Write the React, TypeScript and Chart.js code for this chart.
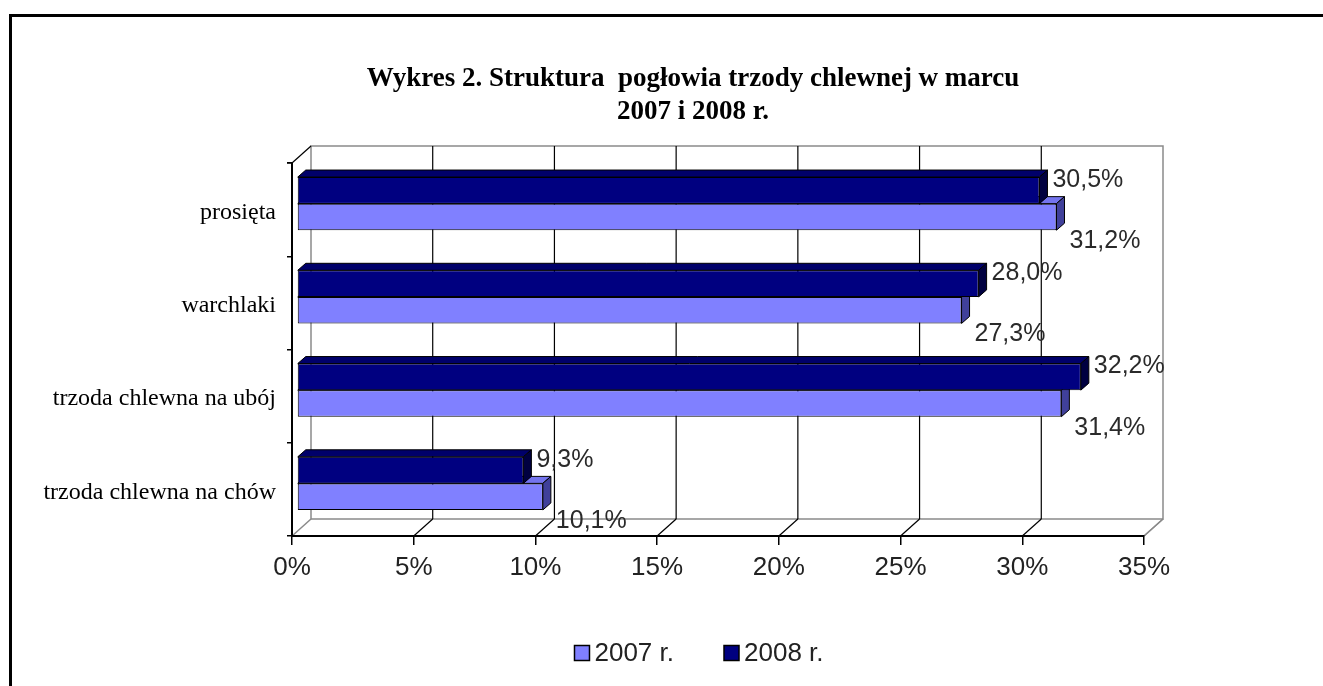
import React, { useEffect, useRef } from 'react';
import { Chart, registerables } from 'chart.js';

Chart.register(...registerables);

const TITLE_LINES = ['Wykres 2. Struktura  pogłowia trzody chlewnej w marcu', '2007 i 2008 r.'];
const CATEGORIES = ['prosięta', 'warchlaki', 'trzoda chlewna na ubój', 'trzoda chlewna na chów'];
const SERIES_2008 = [30.5, 28.0, 32.2, 9.3];
const SERIES_2007 = [31.2, 27.3, 31.4, 10.1];
const LABEL_2008 = '2008 r.';
const LABEL_2007 = '2007 r.';
const X_TICKS = [0, 5, 10, 15, 20, 25, 30, 35];

const SANS = "'Liberation Sans Narrow', 'Arial Narrow', 'Liberation Sans', Arial, sans-serif";
const SERIF = "'Liberation Serif', 'Times New Roman', serif";

const COLOR_2008 = '#000080';
const COLOR_2007 = '#8080FF';
const TOP_COLORS = ['#00006a', '#7474ee'];
const SIDE_COLORS = ['#000040', '#40409a'];

const DEPTH = { x: 19, y: -17 };
const BAR_SHIFT = { x: 5, y: -6 };
const BAR_DEPTH = { x: 8, y: -7 };

const fmt = (v: number) => v.toFixed(1).replace('.', ',') + '%';

function poly(ctx: CanvasRenderingContext2D, pts: number[][], fill: string) {
  ctx.beginPath();
  ctx.moveTo(pts[0][0], pts[0][1]);
  for (let i = 1; i < pts.length; i++) ctx.lineTo(pts[i][0], pts[i][1]);
  ctx.closePath();
  ctx.fillStyle = fill;
  ctx.fill();
  ctx.strokeStyle = '#000';
  ctx.lineWidth = 1;
  ctx.stroke();
}

function line(ctx: CanvasRenderingContext2D, x1: number, y1: number, x2: number, y2: number) {
  ctx.beginPath();
  ctx.moveTo(x1, y1);
  ctx.lineTo(x2, y2);
  ctx.stroke();
}

const threeD = {
  id: 'threeD',
  afterLayout(chart: any) {
    // let the category labels extend left of the narrow axis box without being clipped
    if (chart.scales.y) chart.scales.y.left = 0;
  },
  beforeDraw(chart: any) {
    const { ctx, chartArea: a } = chart;
    const xs = chart.scales.x;
    ctx.save();
    ctx.fillStyle = '#ffffff';
    ctx.fillRect(0, 0, chart.width, chart.height);
    ctx.strokeStyle = '#8a8a8a';
    ctx.lineWidth = 1.5;
    ctx.strokeRect(a.left + DEPTH.x, a.top + DEPTH.y, a.right - a.left, a.bottom - a.top);
    line(ctx, a.left, a.bottom, a.left + DEPTH.x, a.bottom + DEPTH.y);
    line(ctx, a.right, a.bottom, a.right + DEPTH.x, a.bottom + DEPTH.y);
    ctx.strokeStyle = '#000';
    ctx.lineWidth = 1.2;
    line(ctx, a.left - 5, a.top, a.left, a.top);
    line(ctx, a.left, a.top, a.left + DEPTH.x, a.top + DEPTH.y);
    X_TICKS.forEach((v) => {
      const px = xs.getPixelForValue(v);
      if (v > 0 && v < 35) {
        ctx.strokeStyle = '#000';
        ctx.lineWidth = 1.2;
        line(ctx, px + DEPTH.x, a.top + DEPTH.y, px + DEPTH.x, a.bottom + DEPTH.y);
      }
      if (v > 0) {
        ctx.strokeStyle = v < 35 ? '#000' : '#8a8a8a';
        ctx.lineWidth = 1.2;
        line(ctx, px, a.bottom, px + DEPTH.x, a.bottom + DEPTH.y);
      }
    });
    ctx.restore();
  },
  beforeDatasetsDraw(chart: any) {
    chart.ctx.save();
    chart.ctx.translate(BAR_SHIFT.x, BAR_SHIFT.y);
  },
  beforeDatasetDraw(chart: any, args: any) {
    const ctx = chart.ctx;
    const i = args.index;
    args.meta.data.forEach((bar: any) => {
      const { x, y, base, height } = bar.getProps(['x', 'y', 'base', 'height'], true);
      const top = y - height / 2;
      const bottom = y + height / 2;
      poly(ctx, [[base, top], [x, top], [x + BAR_DEPTH.x, top + BAR_DEPTH.y], [base + BAR_DEPTH.x, top + BAR_DEPTH.y]], TOP_COLORS[i]);
      poly(ctx, [[x, top], [x + BAR_DEPTH.x, top + BAR_DEPTH.y], [x + BAR_DEPTH.x, bottom + BAR_DEPTH.y], [x, bottom]], SIDE_COLORS[i]);
    });
  },
  afterDatasetsDraw(chart: any) {
    const ctx = chart.ctx;
    ctx.restore();
    ctx.save();
    ctx.font = `25px ${SANS}`;
    ctx.fillStyle = '#2a2a2a';
    ctx.textAlign = 'left';
    ctx.textBaseline = 'middle';
    chart.data.datasets.forEach((ds: any, di: number) => {
      const meta = chart.getDatasetMeta(di);
      meta.data.forEach((bar: any, j: number) => {
        const { x, y, height } = bar.getProps(['x', 'y', 'height'], true);
        const endX = x + BAR_SHIFT.x + BAR_DEPTH.x;
        const top = y - height / 2 + BAR_SHIFT.y;
        const bottom = y + height / 2 + BAR_SHIFT.y;
        const ly = di === 0 ? top + 3 : bottom + 11;
        ctx.fillText(fmt(ds.data[j]), endX + 5, ly);
      });
    });
    ctx.restore();
  },
  afterDraw(chart: any) {
    const ctx = chart.ctx;
    ctx.save();
    const items = [1, 0].map((di) => chart.data.datasets[di]);
    ctx.font = `26px ${SANS}`;
    const box = 15;
    const gapText = 5;
    const gapItems = 50;
    const widths = items.map((d: any) => box + gapText + ctx.measureText(d.label).width);
    const total = widths[0] + widths[1] + gapItems;
    let lx = 699 - total / 2;
    const cy = 653;
    ctx.textAlign = 'left';
    ctx.textBaseline = 'middle';
    items.forEach((d: any, k: number) => {
      ctx.fillStyle = d.backgroundColor;
      ctx.fillRect(lx, cy - box / 2, box, box);
      ctx.strokeStyle = '#000';
      ctx.lineWidth = 1.5;
      ctx.strokeRect(lx, cy - box / 2, box, box);
      ctx.fillStyle = '#222';
      ctx.fillText(d.label, lx + box + gapText, cy + 1);
      lx += widths[k] + gapItems;
    });
    ctx.fillStyle = '#000';
    ctx.fillRect(9, 14, chart.width, 3);
    ctx.fillRect(9, 14, 3, chart.height);
    ctx.restore();
  },
};

export default function App() {
  const ref = useRef<HTMLCanvasElement | null>(null);
  useEffect(() => {
    if (!ref.current) return;
    const chart = new Chart(ref.current, {
      type: 'bar',
      data: {
        labels: CATEGORIES,
        datasets: [
          { label: LABEL_2008, data: SERIES_2008, backgroundColor: COLOR_2008, borderColor: '#000', borderWidth: 1, borderSkipped: false },
          { label: LABEL_2007, data: SERIES_2007, backgroundColor: COLOR_2007, borderColor: '#000', borderWidth: 1, borderSkipped: false },
        ],
      },
      options: {
        indexAxis: 'y',
        responsive: false,
        animation: false,
        events: [],
        layout: { padding: { left: 242, right: 179, top: 40, bottom: 100 } },
        datasets: { bar: { categoryPercentage: 0.57, barPercentage: 1 } },
        plugins: {
          legend: { display: false },
          tooltip: { enabled: false },
          title: {
            display: true,
            text: TITLE_LINES,
            color: '#000',
            font: { family: SERIF, size: 27, weight: 'bold', lineHeight: 33 / 27 },
            padding: { top: 23, bottom: 34 },
          },
        },
        scales: {
          x: {
            type: 'linear',
            min: 0,
            max: 35,
            afterBuildTicks: (s: any) => {
              s.ticks = X_TICKS.map((v) => ({ value: v }));
            },
            ticks: {
              callback: (v: any) => v + '%',
              font: { family: SANS, size: 26 },
              color: '#222',
              padding: 7,
              maxRotation: 0,
              autoSkip: false,
            },
            grid: { display: true, drawOnChartArea: false, drawTicks: true, tickLength: 9, color: '#000', lineWidth: 1.5 },
            border: { display: true, color: '#000', width: 2 },
            afterFit: (s: any) => {
              s.height = 50;
            },
          },
          y: {
            ticks: { font: { family: SERIF, size: 24 }, color: '#000', padding: 11, labelOffset: 3 },
            grid: { display: true, drawOnChartArea: false, drawTicks: true, tickLength: 5, color: '#000', lineWidth: 1.5, offset: true },
            border: { display: true, color: '#000', width: 2 },
            afterFit: (s: any) => {
              s.width = 50;
            },
          },
        },
      } as any,
      plugins: [threeD],
    });
    return () => chart.destroy();
  }, []);
  return (
    <div style={{ position: 'fixed', left: 0, top: 0, width: 1323, height: 686, background: '#fff' }}>
      <canvas ref={ref} width={1323} height={686} />
    </div>
  );
}
